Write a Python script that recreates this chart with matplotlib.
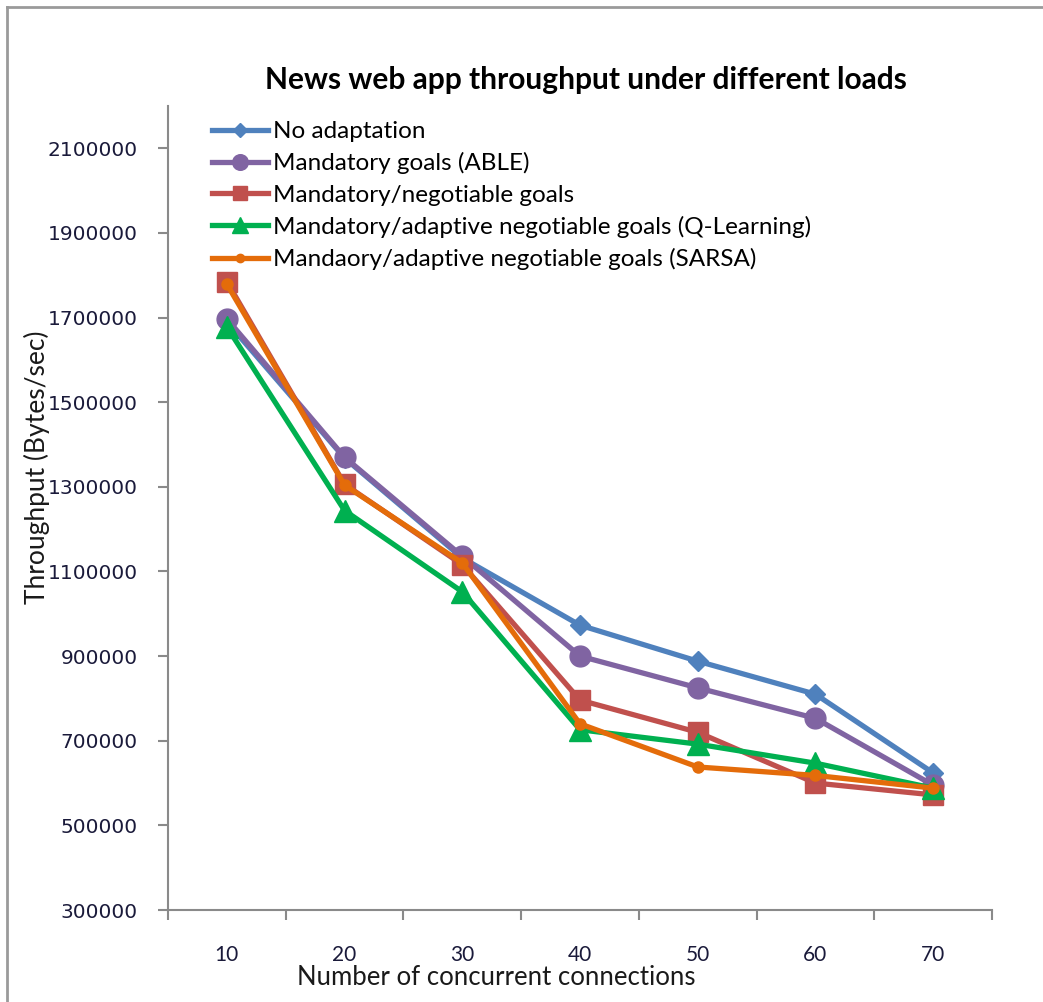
import matplotlib
matplotlib.use("Agg")
import matplotlib.pyplot as plt
from matplotlib.lines import Line2D

categories = ["10", "20", "30", "40", "50", "60", "70"]
no_adapt = [1690000, 1368000, 1132000, 973000, 888000, 810000, 624000]
able = [1697000, 1370000, 1136000, 900000, 825000, 753000, 595000]
negotiable = [1785000, 1306000, 1116000, 796000, 720000, 600000, 572000]
qlearning = [1678000, 1244000, 1052000, 726000, 692000, 647000, 588000]
sarsa = [1779000, 1304000, 1120000, 740000, 638000, 618000, 588000]
series_names = ["No adaptation", "Mandatory goals (ABLE)", "Mandatory/negotiable goals",
                "Mandatory/adaptive negotiable goals (Q-Learning)",
                "Mandaory/adaptive negotiable goals (SARSA)"]
yticks = [300000, 500000, 700000, 900000, 1100000, 1300000, 1500000, 1700000, 1900000, 2100000]

W, H = 1043, 1002
fig = plt.figure(figsize=(W / 100, H / 100), dpi=100)
ax = fig.add_axes([168 / W, 1 - 910 / H, (992 - 168) / W, (910 - 106) / H])

x = list(range(len(categories)))
styles = [
    (no_adapt, "#4F81BD", "D", 10),
    (able, "#8064A2", "o", 15),
    (negotiable, "#C0504D", "s", 14),
    (qlearning, "#00B050", "^", 16),
    (sarsa, "#E46C0A", "o", 8),
]
handles = []
for (vals, col, mk, ms), name in zip(styles, series_names):
    ax.plot(x, vals, color=col, lw=3.8, marker=mk, markersize=ms,
            markerfacecolor=col, markeredgecolor=col, solid_joinstyle="round")
    handles.append(Line2D([], [], color=col, lw=3.8, marker=mk,
                          markersize=ms * 0.75, markerfacecolor=col, markeredgecolor=col))

ax.set_xlim(-0.5, len(categories) - 0.5)
ax.set_ylim(300000, 2200000)
ax.set_yticks(yticks)
ax.set_yticklabels([str(v) for v in yticks], fontfamily="DejaVu Sans", fontsize=14.5,
                   color="#1a1a3a")
ax.set_xticks(x)
ax.set_xticklabels(categories, fontfamily="Lato", fontsize=15, color="#1a1a3a")
ax.set_xticks([i - 0.5 for i in range(len(categories) + 1)], minor=True)
ax.tick_params(axis="x", which="major", length=0, pad=25)
ax.tick_params(axis="x", which="minor", length=7, width=1.5, color="#8a8a8a", direction="out")
ax.tick_params(axis="y", which="major", length=7, width=1.5, color="#8a8a8a", direction="out", pad=15)
for s in ["top", "right"]:
    ax.spines[s].set_visible(False)
for s in ["left", "bottom"]:
    ax.spines[s].set_color("#8a8a8a")
    ax.spines[s].set_linewidth(1.5)

ax.set_xlabel("Number of concurrent connections", fontfamily="Lato", fontsize=18.5,
              color="#1a1a1a")
ax.xaxis.set_label_coords((496 - 168) / 824, (910 - 965) / 804)
ax.set_ylabel("Throughput (Bytes/sec)", fontfamily="Lato", fontsize=19,
              color="#1a1a1a")
ax.yaxis.set_label_coords((50 - 168) / 824, (910 - 467) / 804)

fig.text(586 / W, 1 - 80 / H, "News web app throughput under different loads",
         ha="center", va="center", fontfamily="Lato", fontweight="bold", fontsize=21.5)

leg = fig.legend(handles, series_names, loc="upper left",
                 bbox_to_anchor=(212 / W, 1 - 121 / H), frameon=False,
                 prop={"family": "Lato", "size": 17.5}, handlelength=2.3,
                 handletextpad=0.2, labelspacing=0.42, borderaxespad=0, borderpad=0)

# outer chart border (left and top visible)
fig.add_artist(Line2D([7 / W, 7 / W], [0, 1 - 7 / H], transform=fig.transFigure,
                      color="#9a9a9a", lw=2))
fig.add_artist(Line2D([7 / W, 1], [1 - 7 / H, 1 - 7 / H], transform=fig.transFigure,
                      color="#9a9a9a", lw=2))

fig.savefig("out.png", dpi=100, facecolor="white")
